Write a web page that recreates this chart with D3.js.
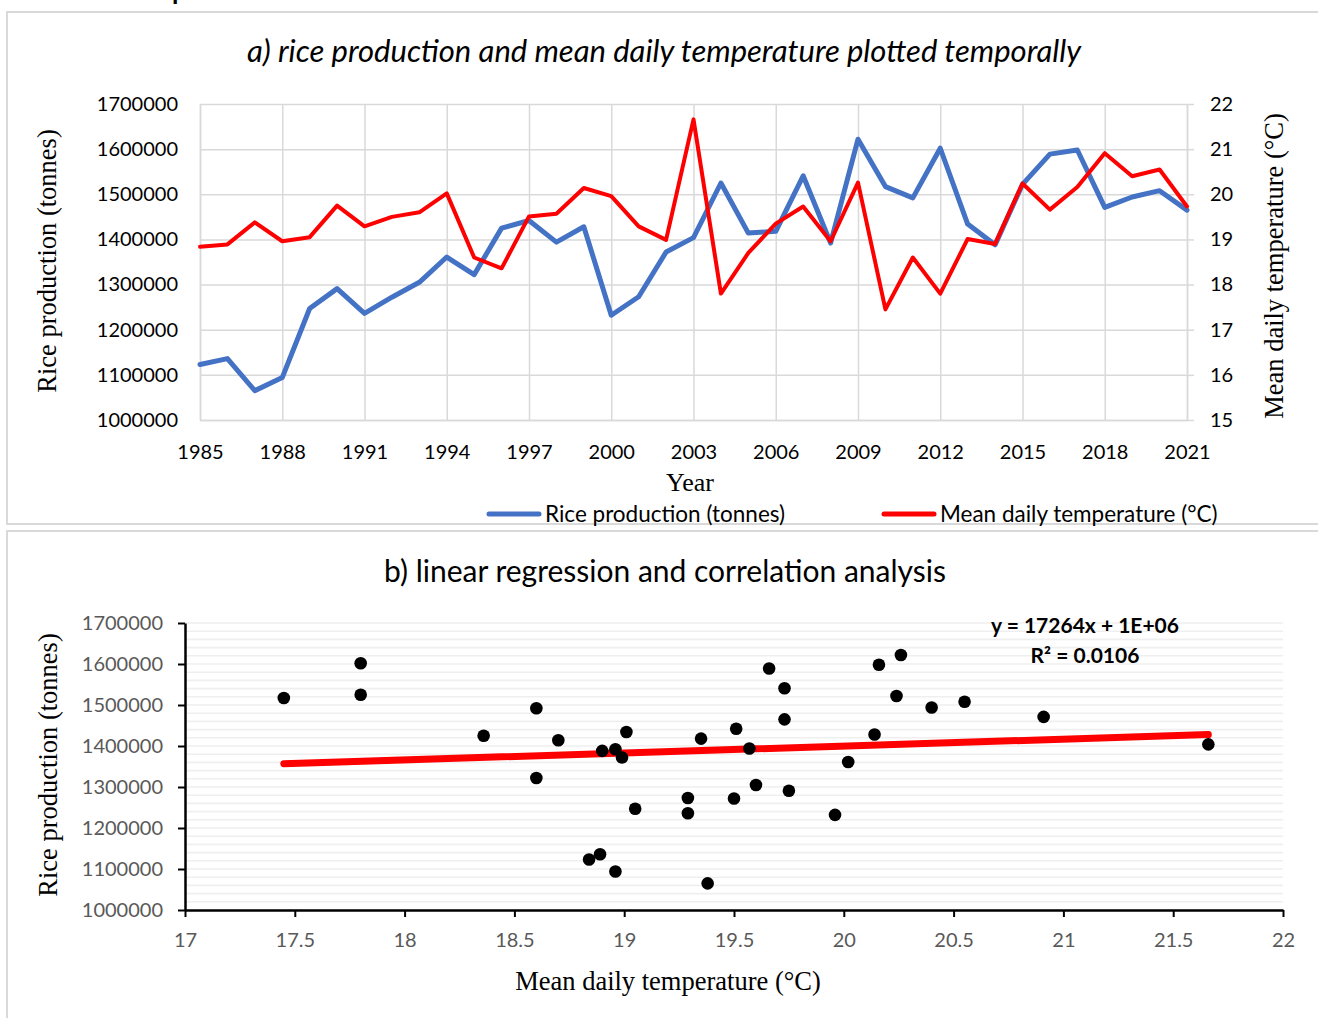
<!DOCTYPE html>
<html>
<head>
<meta charset="utf-8">
<script src="https://cdn.jsdelivr.net/npm/d3@7"></script>
<style>
body { margin: 0; background: #fff; }
text { font-family: Lato, "Open Sans", sans-serif; }
.serif { font-family: "Liberation Serif", "Times New Roman", serif; }
</style>
</head>
<body>
<div id="chart"></div>
<script>
// data
var years = [1985, 1986, 1987, 1988, 1989, 1990, 1991, 1992, 1993, 1994,
  1995, 1996, 1997, 1998, 1999, 2000, 2001, 2002, 2003, 2004,
  2005, 2006, 2007, 2008, 2009, 2010, 2011, 2012, 2013, 2014,
  2015, 2016, 2017, 2018, 2019, 2020, 2021];

var rice = [1123000, 1136000, 1065000, 1094000, 1247000, 1291000, 1236000, 1272000, 1305000, 1361000,
  1322000, 1425000, 1442000, 1394000, 1428000, 1232000, 1273000, 1372000, 1404000, 1525000,
  1414000, 1418000, 1541000, 1392000, 1622000, 1517000, 1492000, 1602000, 1434000, 1388000,
  1522000, 1589000, 1598000, 1471000, 1494000, 1508000, 1465000];

var temp = [18.84, 18.89, 19.38, 18.96, 19.05, 19.75, 19.29, 19.50, 19.60, 20.02,
  18.60, 18.36, 19.51, 19.57, 20.14, 19.96, 19.29, 18.99, 21.66, 17.80,
  18.70, 19.35, 19.73, 18.96, 20.26, 17.45, 18.60, 17.80, 19.01, 18.90,
  20.24, 19.66, 20.16, 20.91, 20.40, 20.55, 19.73];

var yearTicks = [1985, 1988, 1991, 1994, 1997, 2000, 2003, 2006, 2009, 2012, 2015, 2018, 2021];
var riceTicks = [1000000, 1100000, 1200000, 1300000, 1400000, 1500000, 1600000, 1700000];
var tempTicks = [15, 16, 17, 18, 19, 20, 21, 22];
var tempTicksB = [17, 17.5, 18, 18.5, 19, 19.5, 20, 20.5, 21, 21.5, 22];

var data = years.map(function(y, i) { return { year: y, rice: rice[i], temp: temp[i] }; });

var svg = d3.select("#chart").append("svg")
  .attr("width", 1318)
  .attr("height", 1018);

// panel frames
svg.append("rect").attr("x", 7).attr("y", 12).attr("width", 1330).attr("height", 512)
  .attr("fill", "none").attr("stroke", "#d9d9d9").attr("stroke-width", 2);
svg.append("rect").attr("x", 7).attr("y", 531).attr("width", 1330).attr("height", 500)
  .attr("fill", "none").attr("stroke", "#d9d9d9").attr("stroke-width", 2);

// cut off heading above the panels
svg.append("text").attr("x", 172).attr("y", 0)
  .attr("font-size", 26).attr("font-weight", "bold").text("p");

// ---------- a) time series ----------
var x = d3.scaleLinear().domain([1985, 2021]).range([200, 1187]);
var yL = d3.scaleLinear().domain([1000000, 1700000]).range([420, 104]);
var yR = d3.scaleLinear().domain([15, 22]).range([420, 104]);

var gA = svg.append("g");

var ax = gA.append("g").attr("transform", "translate(0,420)")
  .call(d3.axisBottom(x).tickValues(yearTicks).tickFormat(d3.format("d"))
    .tickSize(-316).tickSizeOuter(0).tickPadding(25));
var ay = gA.append("g").attr("transform", "translate(200,0)")
  .call(d3.axisLeft(yL).tickValues(riceTicks).tickFormat(d3.format("d"))
    .tickSize(-987).tickSizeOuter(0).tickPadding(22));
var ayr = gA.append("g").attr("transform", "translate(1187,0)")
  .call(d3.axisRight(yR).tickValues(tempTicks).tickFormat(d3.format("d"))
    .tickSize(7).tickSizeOuter(0).tickPadding(16));

[ax, ay, ayr].forEach(function(a) {
  a.selectAll("line").attr("stroke", "#d9d9d9").attr("stroke-width", 1.5);
  a.select(".domain").attr("stroke", "#d9d9d9").attr("stroke-width", 1.5);
  a.selectAll("text").attr("fill", "#000").attr("font-size", 20)
    .style("font-family", "Lato, sans-serif");
});

var lineRice = d3.line().x(function(d) { return x(d.year); }).y(function(d) { return yL(d.rice); });
var lineTemp = d3.line().x(function(d) { return x(d.year); }).y(function(d) { return yR(d.temp); });

gA.append("path").datum(data).attr("d", lineRice)
  .attr("fill", "none").attr("stroke", "#4472C4").attr("stroke-width", 5)
  .attr("stroke-linejoin", "round").attr("stroke-linecap", "round");
gA.append("path").datum(data).attr("d", lineTemp)
  .attr("fill", "none").attr("stroke", "#FF0000").attr("stroke-width", 4)
  .attr("stroke-linejoin", "round").attr("stroke-linecap", "round");

gA.append("text").attr("x", 664).attr("y", 62).attr("text-anchor", "middle")
  .attr("font-size", 31).attr("font-style", "italic")
  .text("a) rice production and mean daily temperature plotted temporally");

gA.append("text").attr("class", "serif").attr("x", 690).attr("y", 491)
  .attr("text-anchor", "middle").attr("font-size", 26).text("Year");
gA.append("text").attr("class", "serif")
  .attr("transform", "translate(56,261) rotate(-90)")
  .attr("text-anchor", "middle").attr("font-size", 26.5).text("Rice production (tonnes)");
gA.append("text").attr("class", "serif")
  .attr("transform", "translate(1283,266) rotate(-90)")
  .attr("text-anchor", "middle").attr("font-size", 26.5).text("Mean daily temperature (°C)");

// legend
var legend = [
  { label: "Rice production (tonnes)", color: "#4472C4", x: 489 },
  { label: "Mean daily temperature (°C)", color: "#FF0000", x: 884 }
];
legend.forEach(function(l) {
  gA.append("line").attr("x1", l.x).attr("x2", l.x + 50).attr("y1", 514).attr("y2", 514)
    .attr("stroke", l.color).attr("stroke-width", 5).attr("stroke-linecap", "round");
  gA.append("text").attr("x", l.x + 56).attr("y", 522).attr("font-size", 22.5).text(l.label);
});

// ---------- b) scatter + regression ----------
var xB = d3.scaleLinear().domain([17, 22]).range([185, 1283]);
var yB = d3.scaleLinear().domain([1000000, 1700000]).range([910, 623]);

var gB = svg.append("g");

gB.selectAll("line.grid")
  .data(d3.range(1000000, 1700001, 20000))
  .enter().append("line").attr("class", "grid")
  .attr("x1", 185).attr("x2", 1283)
  .attr("y1", function(d) { return yB(d); }).attr("y2", function(d) { return yB(d); })
  .attr("stroke", "#efefef").attr("stroke-width", 1.6);

var bx = gB.append("g").attr("transform", "translate(0,910)")
  .call(d3.axisBottom(xB).tickValues(tempTicksB).tickFormat(function(d) { return d; })
    .tickSize(7).tickSizeOuter(0).tickPadding(16));
var by = gB.append("g").attr("transform", "translate(185,0)")
  .call(d3.axisLeft(yB).tickValues(riceTicks).tickFormat(d3.format("d"))
    .tickSize(7).tickSizeOuter(0).tickPadding(15));

[bx, by].forEach(function(a) {
  a.selectAll("line").attr("stroke", "#000").attr("stroke-width", 2);
  a.select(".domain").attr("stroke", "#000").attr("stroke-width", 2.5);
  a.selectAll("text").attr("fill", "#595959").attr("font-size", 20)
    .style("font-family", "Lato, sans-serif");
});

// least squares fit of rice on temperature
var mx = d3.mean(temp), my = d3.mean(rice);
var sxy = d3.sum(data, function(d) { return (d.temp - mx) * (d.rice - my); });
var sxx = d3.sum(data, function(d) { return (d.temp - mx) * (d.temp - mx); });
var slope = sxy / sxx, intercept = my - slope * mx;
var ext = d3.extent(temp);

gB.append("line")
  .attr("x1", xB(ext[0])).attr("y1", yB(intercept + slope * ext[0]))
  .attr("x2", xB(ext[1])).attr("y2", yB(intercept + slope * ext[1]))
  .attr("stroke", "#FF0000").attr("stroke-width", 7).attr("stroke-linecap", "round");

gB.selectAll("circle").data(data).enter().append("circle")
  .attr("cx", function(d) { return xB(d.temp); })
  .attr("cy", function(d) { return yB(d.rice); })
  .attr("r", 6.3).attr("fill", "#000");

gB.append("text").attr("x", 665).attr("y", 582).attr("text-anchor", "middle")
  .attr("font-size", 30).text("b) linear regression and correlation analysis");

gB.append("text").attr("x", 1085).attr("y", 633).attr("text-anchor", "middle")
  .attr("font-size", 21).attr("font-weight", "bold").text("y = 17264x + 1E+06");
gB.append("text").attr("x", 1085).attr("y", 663).attr("text-anchor", "middle")
  .attr("font-size", 21).attr("font-weight", "bold").text("R² = 0.0106");

gB.append("text").attr("class", "serif").attr("x", 668).attr("y", 990)
  .attr("text-anchor", "middle").attr("font-size", 26.5).text("Mean daily temperature (°C)");
gB.append("text").attr("class", "serif")
  .attr("transform", "translate(57,765) rotate(-90)")
  .attr("text-anchor", "middle").attr("font-size", 26.5).text("Rice production (tonnes)");
</script>
</body>
</html>
